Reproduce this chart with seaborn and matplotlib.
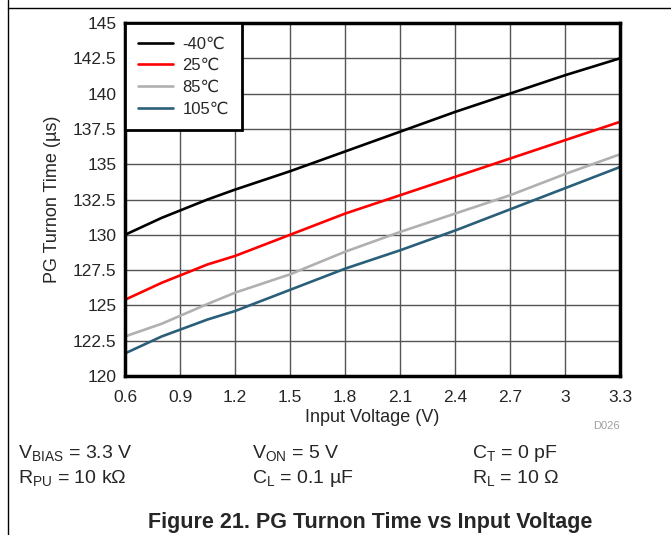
import pandas as pd
import seaborn as sns
import matplotlib.pyplot as plt
from matplotlib.lines import Line2D

voltage = [0.6, 0.8, 1.05, 1.2, 1.5, 1.8, 2.1, 2.4, 2.7, 3.0, 3.3]
t_m40 = [130.0, 131.2, 132.5, 133.2, 134.5, 135.9, 137.3, 138.7, 140.0, 141.3, 142.5]
t_25 = [125.4, 126.6, 127.9, 128.5, 130.0, 131.5, 132.8, 134.1, 135.4, 136.7, 138.0]
t_85 = [122.8, 123.7, 125.1, 125.9, 127.2, 128.8, 130.2, 131.5, 132.8, 134.3, 135.7]
t_105 = [121.6, 122.8, 124.0, 124.6, 126.1, 127.6, 128.9, 130.3, 131.8, 133.3, 134.8]
labels = ['-40\u2103', '25\u2103', '85\u2103', '105\u2103']
colors = ['#000000', '#ff0000', '#b0b0b0', '#2a5f7a']
x_ticks = [0.6, 0.9, 1.2, 1.5, 1.8, 2.1, 2.4, 2.7, 3.0, 3.3]
x_ticklabels = ['0.6', '0.9', '1.2', '1.5', '1.8', '2.1', '2.4', '2.7', '3', '3.3']
y_ticks = [120, 122.5, 125, 127.5, 130, 132.5, 135, 137.5, 140, 142.5, 145]
y_ticklabels = ['120', '122.5', '125', '127.5', '130', '132.5', '135', '137.5', '140', '142.5', '145']

frames = []
for lab, vals in zip(labels, [t_m40, t_25, t_85, t_105]):
    frames.append(pd.DataFrame({'V': voltage, 'T': vals, 'Temp': lab}))
df = pd.concat(frames, ignore_index=True)

sns.set_style('white')
plt.rcParams['font.family'] = ['Liberation Sans', 'DejaVu Sans']
plt.rcParams['mathtext.fontset'] = 'custom'
plt.rcParams['mathtext.rm'] = 'Liberation Sans'
plt.rcParams['mathtext.it'] = 'Liberation Sans'

fig = plt.figure(figsize=(6.71, 5.35), dpi=100)
ax = fig.add_axes([0.1863, 0.2972, 0.7377, 0.6598])

sns.lineplot(data=df, x='V', y='T', hue='Temp', palette=colors, linewidth=1.9, ax=ax)

ax.set_xlim(0.6, 3.3)
ax.set_ylim(120, 145)
ax.set_xticks(x_ticks)
ax.set_xticklabels(x_ticklabels)
ax.set_yticks(y_ticks)
ax.set_yticklabels(y_ticklabels)
ax.tick_params(axis='x', length=0, labelsize=12.5, pad=10)
ax.tick_params(axis='y', length=0, labelsize=12.5, pad=6)
ax.grid(True, color='#555555', linewidth=1)
ax.set_axisbelow(True)
for s in ax.spines.values():
    s.set_color('black')
    s.set_linewidth(2.5)
ax.set_xlabel('Input Voltage (V)', fontsize=13, labelpad=3)
ax.set_ylabel('PG Turnon Time (\u00b5s)', fontsize=13, labelpad=9)

leg = ax.legend(loc='upper left', borderaxespad=0, fancybox=False, framealpha=1,
                edgecolor='black', fontsize=12, handlelength=2.05, labelspacing=0.41,
                borderpad=0.8, handletextpad=0.6)
leg.get_frame().set_linewidth(2)

fig.text(0.923, 0.198, 'D026', color='#a0a0a0', fontsize=8, ha='right')

cond = [
    (0.027, 0.144, r'V$_{\mathrm{BIAS}}$ = 3.3 V'),
    (0.375, 0.144, r'V$_{\mathrm{ON}}$ = 5 V'),
    (0.703, 0.144, r'C$_{\mathrm{T}}$ = 0 pF'),
    (0.027, 0.097, r'R$_{\mathrm{PU}}$ = 10 k$\Omega$'),
    (0.375, 0.097, r'C$_{\mathrm{L}}$ = 0.1 µF'),
    (0.703, 0.097, r'R$_{\mathrm{L}}$ = 10 $\Omega$'),
]
for x, y, t in cond:
    fig.text(x, y, t, fontsize=14)

fig.text(0.552, 0.013, 'Figure 21. PG Turnon Time vs Input Voltage', fontsize=15.5,
         fontweight='bold', ha='center')

fig.add_artist(Line2D([0.012, 0.012], [0, 1], color='black', linewidth=1, transform=fig.transFigure))
fig.add_artist(Line2D([0.012, 1], [0.985, 0.985], color='black', linewidth=1, transform=fig.transFigure))

fig.savefig('out.png', dpi=100)
